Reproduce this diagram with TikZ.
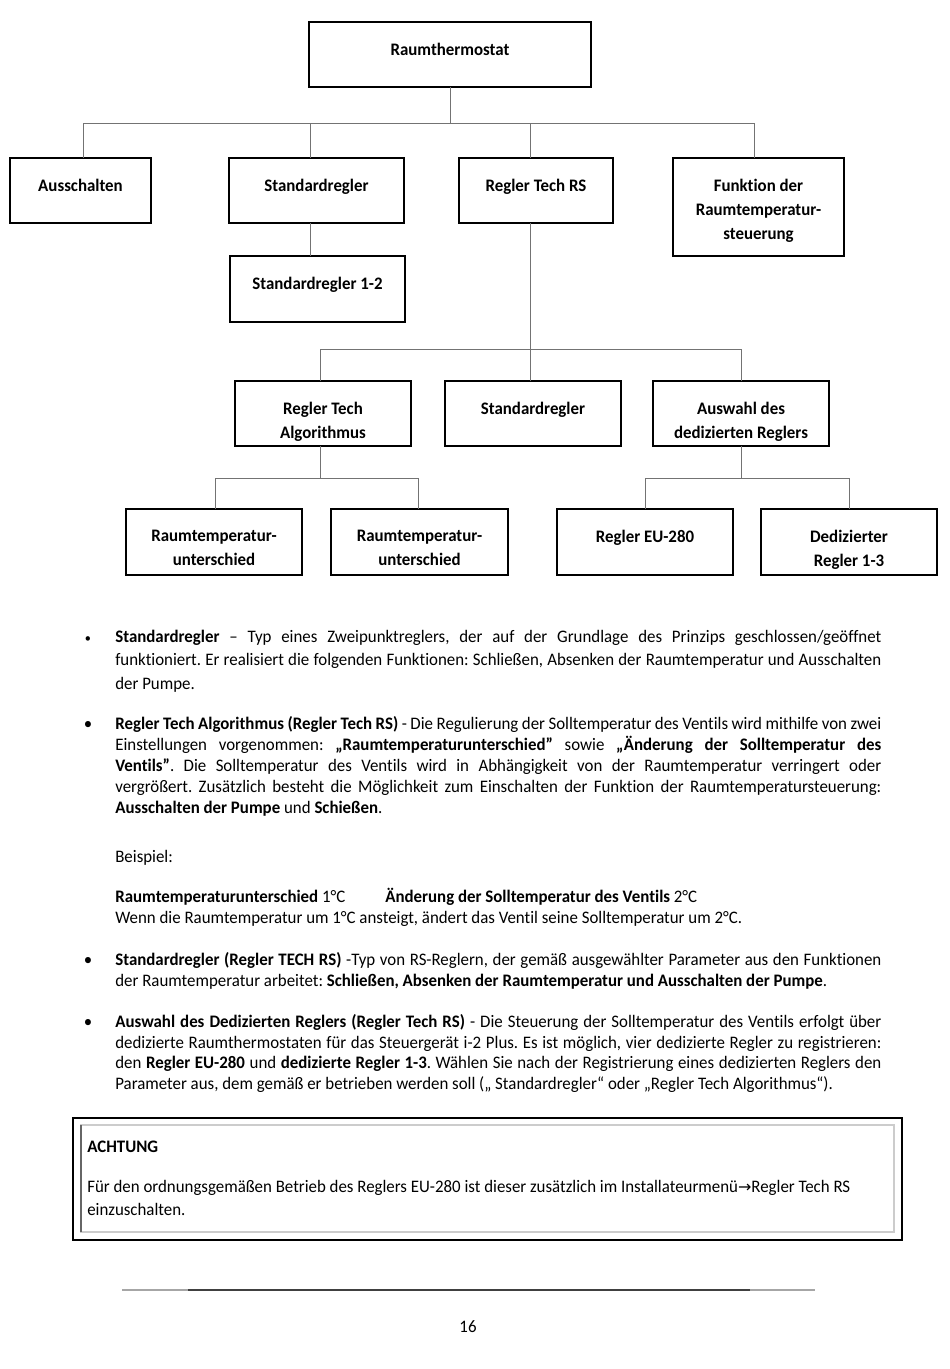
\documentclass[tikz,border=0pt]{standalone}
\usepackage{fontspec}
\setmainfont{Carlito}[FakeStretch=0.96, Ligatures=NoCommon]
\newfontfamily\symf{DejaVu Sans}
\hyphenpenalty=10000
\exhyphenpenalty=10000
\tolerance=9999
\emergencystretch=20pt
\frenchspacing
\newcommand{\tbox}[6]{%
  \pgfmathsetmacro\bw{(#4-#2)*0.626}%
  \pgfmathsetmacro\bh{(#5-#3)*0.626}%
  \node[tbx, minimum width=\bw pt, minimum height=\bh pt] (#1) at ({(#2+#4)/2},{(#3+#5)/2}) {};
  \node[tlbl, anchor=north] (#1t) at ([yshift=-13.1pt]#1.north) {#6};}
\begin{document}
\begin{tikzpicture}[x=0.626pt, y=-0.626pt,
  tbx/.style={draw=black, line width=0.9pt, inner sep=0pt, outer sep=0pt},
  tlbl/.style={font=\bfseries\fontsize{11}{15}\selectfont, align=center, inner sep=0pt},
  conn/.style={draw=black!55, line width=0.6pt},
  para/.style={anchor=base west, inner sep=0pt, text width=479.5pt, align=justify, font=\frenchspacing\fontsize{11}{13.15}\selectfont},
  plain/.style={anchor=base west, inner sep=0pt, font=\fontsize{11}{13.15}\selectfont},
  bul/.style={anchor=base, inner sep=0pt, font=\fontsize{11}{13}\selectfont}]
\fill[white] (0,0) rectangle (950,1369);
\useasboundingbox (0,0) rectangle (950,1369);

% ---------- tree ----------
\tbox{root}{309}{22}{591}{87}{Raumthermostat}
\tbox{aus}{10}{158}{151}{223}{Ausschalten}
\tbox{std}{229}{158}{404}{223}{Standardregler}
\tbox{rts}{459}{158}{613}{223}{Regler Tech RS}
\tbox{fkt}{673}{158}{844}{256}{Funktion der\\Raumtemperatur-\\steuerung}
\tbox{stdz}{230}{256}{405}{322}{Standardregler 1-2}
\tbox{rta}{235}{381}{411}{446}{Regler Tech\\Algorithmus}
\tbox{stdb}{445}{381}{621}{446}{Standardregler}
\tbox{ausw}{653}{381}{829}{446}{Auswahl des\\dedizierten Reglers}
\tbox{rtua}{126}{509}{302}{575}{Raumtemperatur-\\unterschied}
\tbox{rtub}{331}{509}{508}{575}{Raumtemperatur-\\unterschied}
\tbox{eu}{557}{509}{733}{575}{Regler EU-280}
\tbox{ded}{761}{509}{937}{575}{Dedizierter\\Regler 1-3}

\coordinate (b1) at (450,123);
\coordinate (b2) at (530,349);
\coordinate (b3) at (320,478);
\coordinate (b4) at (741,478);
\draw[conn] (root.south) -- (b1);
\draw[conn] (aus.north -| 83,0) |- (b1);
\draw[conn] (fkt.north -| 754,0) |- (b1);
\draw[conn] (std.north -| 310,0) -- (b1 -| 310,0);
\draw[conn] (rts.north -| 530,0) -- (b1 -| 530,0);
\draw[conn] (std.south -| 310,0) -- (stdz.north -| 310,0);
\draw[conn] (rts.south -| 530,0) -- (b2);
\draw[conn] (rta.north -| 320,0) |- (b2);
\draw[conn] (ausw.north -| 741,0) |- (b2);
\draw[conn] (stdb.north -| 530,0) -- (b2);
\draw[conn] (rta.south -| 320,0) -- (b3);
\draw[conn] (rtua.north -| 215,0) |- (b3);
\draw[conn] (rtub.north -| 418,0) |- (b3);
\draw[conn] (ausw.south -| 741,0) -- (b4);
\draw[conn] (eu.north -| 645,0) |- (b4);
\draw[conn] (ded.north -| 849,0) |- (b4);

% ---------- text ----------
\node[bul, font=\fontsize{8}{10}\selectfont] (d1) at (88,642.5) {•};
\node[para, font=\frenchspacing\fontsize{11}{14.7}\selectfont] (p1) at (115,642.5) {\textbf{Standardregler} – Typ eines Zweipunktreglers, der auf der Grundlage des Prinzips geschlossen/geöffnet \linebreak funktioniert. Er realisiert die folgenden Funktionen: Schließen, Absenken der Raumtemperatur und Ausschalten \linebreak der Pumpe.};

\node[bul] (d2) at (88,729.5) {•};
\node[para] (p2) at (115,729.5) {\textbf{Regler Tech Algorithmus (Regler Tech RS)} - Die Regulierung der Solltemperatur des Ventils wird mithilfe von zwei \linebreak Einstellungen vorgenommen: \textbf{„Raumtemperaturunterschied”} sowie \textbf{„Änderung der Solltemperatur des} \linebreak \textbf{Ventils”}. Die Solltemperatur des Ventils wird in Abhängigkeit von der Raumtemperatur verringert oder \linebreak vergrößert. Zusätzlich besteht die Möglichkeit zum Einschalten der Funktion der Raumtemperatursteuerung: \linebreak \textbf{Ausschalten der Pumpe} und \textbf{Schießen}.};

\node[plain] (bsp) at (115,862.5) {Beispiel:};
\node[plain] (ex1) at (115,902.5) {\textbf{Raumtemperaturunterschied} 1°C};
\node[plain] (ex2) at (385,902.5) {\textbf{Änderung der Solltemperatur des Ventils} 2°C};
\node[plain] (ex3) at (115,923.5) {Wenn die Raumtemperatur um 1°C ansteigt, ändert das Ventil seine Solltemperatur um 2°C.};

\node[bul] (d3) at (88,965.5) {•};
\node[para] (p3) at (115,965.5) {\textbf{Standardregler (Regler TECH RS)} -Typ von RS-Reglern, der gemäß ausgewählter Parameter aus den Funktionen \linebreak der Raumtemperatur arbeitet: \textbf{Schließen, Absenken der Raumtemperatur und Ausschalten der Pumpe}.};

\node[bul] (d4) at (88,1027.5) {•};
\node[para, font=\frenchspacing\fontsize{11}{12.9}\selectfont] (p4) at (115,1027.5) {\textbf{Auswahl des Dedizierten Reglers (Regler Tech RS)} - Die Steuerung der Solltemperatur des Ventils erfolgt über \linebreak dedizierte Raumthermostaten für das Steuergerät i-2 Plus. Es ist möglich, vier dedizierte Regler zu registrieren: \linebreak den \textbf{Regler EU-280} und \textbf{dedizierte Regler 1-3}. Wählen Sie nach der Registrierung eines dedizierten Reglers den \linebreak Parameter aus, dem gemäß er betrieben werden soll („ Standardregler“ oder „Regler Tech Algorithmus“).};

% ---------- ACHTUNG box ----------
\node[draw=black, line width=1.3pt, inner sep=0pt, outer sep=0pt, minimum width=518.95pt, minimum height=76.4pt] (warn) at (487.5,1179) {};
\draw[black!20, line width=0.8pt] (81,1125) rectangle (894,1232);
\draw[black!60, line width=1pt] (81,1125) -- (81,1232);
\node[plain, font=\bfseries\fontsize{11}{13}\selectfont] (wt) at (87,1152) {ACHTUNG};
\node[plain, text width=520pt, align=flush left, font=\frenchspacing\fontsize{11}{14.4}\selectfont] (wb) at (87,1192) {Für den ordnungsgemäßen Betrieb des Reglers EU-280 ist dieser zusätzlich im Installateurmenü{\symf\fontsize{10}{12}\selectfont →}Regler Tech RS\\einzuschalten.};

% ---------- footer ----------
\draw[black!35, line width=0.8pt] (122,1290) -- (815,1290);
\draw[black!75, line width=0.9pt] (188,1290) -- (750,1290);
\node[bul, font=\fontsize{11}{13}\selectfont] (pg) at (468,1332) {16};
\end{tikzpicture}
\end{document}
